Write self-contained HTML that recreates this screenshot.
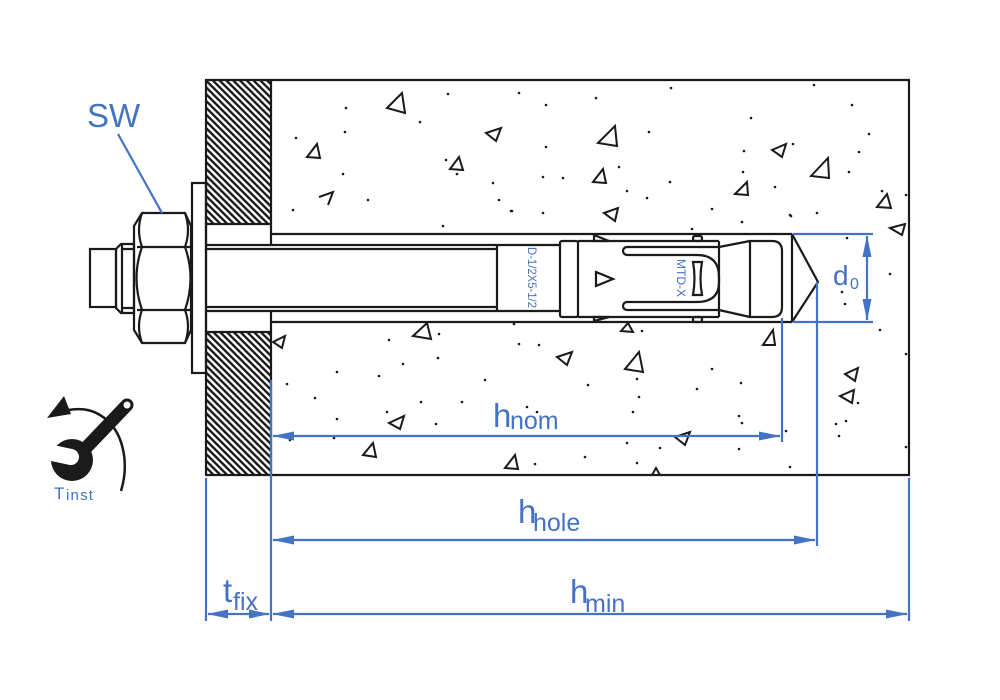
<!DOCTYPE html>
<html>
<head>
<meta charset="utf-8">
<style>
html,body{margin:0;padding:0;background:#fff;}
svg{display:block;}
text{font-family:"Liberation Sans",Arial,sans-serif;}
</style>
</head>
<body>
<svg width="1000" height="700" viewBox="0 0 1000 700" xmlns="http://www.w3.org/2000/svg">
<defs>
<pattern id="hatch" patternUnits="userSpaceOnUse" width="4.8" height="4.8" patternTransform="rotate(45)">
<line x1="0" y1="2.4" x2="4.8" y2="2.4" stroke="#111" stroke-width="2.3"/>
</pattern>
</defs>
<rect width="1000" height="700" fill="#fff"/>

<!-- fixture hatch -->
<rect x="206" y="80" width="65" height="144" fill="url(#hatch)"/>
<rect x="206" y="332" width="65" height="143" fill="url(#hatch)"/>

<g stroke="#1a1a1a" stroke-width="2.2" fill="none">
<!-- concrete block + fixture outline -->
<line x1="205" y1="80" x2="910" y2="80"/>
<line x1="205" y1="475" x2="910" y2="475"/>
<line x1="909" y1="80" x2="909" y2="476"/>
<line x1="206" y1="80" x2="206" y2="476"/>
<line x1="271" y1="80" x2="271" y2="245"/>
<line x1="271" y1="311" x2="271" y2="475"/>
<line x1="206" y1="224" x2="271" y2="224"/>
<line x1="206" y1="332" x2="271" y2="332"/>
<!-- drilled hole -->
<line x1="271" y1="234" x2="792" y2="234"/>
<line x1="271" y1="322" x2="792" y2="322"/>
<line x1="792" y1="234" x2="792" y2="322"/>
<polyline points="792,234 818,282 792,322"/>
<!-- washer -->
<rect x="192" y="183" width="14" height="190"/>
<!-- rod -->
<line x1="206" y1="245" x2="560" y2="245"/>
<line x1="206" y1="249" x2="497" y2="249"/>
<line x1="206" y1="307" x2="497" y2="307"/>
<line x1="206" y1="311" x2="560" y2="311"/>
<line x1="497" y1="245" x2="497" y2="311"/>
<!-- clip / sleeve -->
<rect x="560" y="241" width="18" height="76" rx="2"/>
<line x1="578" y1="241" x2="719" y2="241"/>
<line x1="578" y1="317" x2="719" y2="317"/>
<line x1="719" y1="241" x2="719" y2="317"/>
<polygon points="594,235 609,241 594,241"/>
<polygon points="594,321 609,317 594,317"/>
<rect x="693" y="236" width="9" height="5" rx="2"/>
<rect x="693" y="317" width="9" height="5" rx="2"/>
<path d="M719 247 H627 A4 4 0 0 0 627 255 H697 Q719 255 719 277 V282 Q719 302 697 302 H627 A4 4 0 0 0 627 310 H719"/>
<path d="M693 262 H702 Q699 278 702 295 H693 Q696 278 693 262 Z"/>
<polygon points="596,272 613,279 596,286"/>
<!-- cone -->
<polyline points="719,247 750,241"/>
<polyline points="719,310 750,317"/>
<path d="M750 241 H772 Q782 241 782 251 V307 Q782 317 772 317 H750 Z"/>
<!-- nut -->
<path d="M142 213 H185 L191 226 V330 L185 343 H142 L134 330 V226 Z"/>
<line x1="137" y1="247" x2="190" y2="247"/>
<line x1="137" y1="310" x2="190" y2="310"/>
<path d="M142 213 Q136 230 142 247 M185 213 Q191 230 185 247 M142 247 Q131 278 142 310 M185 247 Q196 278 185 310 M142 310 Q136 326 142 343 M185 310 Q191 326 185 343"/>
<polygon points="116,249 121,244 134,244 134,313 121,313 116,308"/>
<path d="M122 249 H134 M122 308 H134 M122 244 V313"/>
<rect x="90" y="249" width="26" height="58"/>
</g>

<!-- concrete aggregate triangles -->
<g stroke="#1a1a1a" stroke-width="2" fill="none" stroke-linejoin="miter">
<polygon points="387,108 402,93 405,113"/>
<polygon points="307,157 317,144 320,158"/>
<polyline points="319,197 333,192 328,205"/>
<polygon points="450,169 459,157 463,170"/>
<polygon points="486,133 501,128 496,141"/>
<polygon points="598,143 615,126 617,146"/>
<polygon points="593,182 603,169 606,183"/>
<polygon points="604,213 618,208 615,221"/>
<polygon points="772,150 786,144 782,157"/>
<polygon points="811,176 828,158 829,178"/>
<polygon points="735,194 747,182 748,195"/>
<polygon points="877,207 887,194 891,208"/>
<polygon points="890,228 905,224 902,235"/>
<polygon points="413,336 427,323 431,339"/>
<polygon points="273,342 285,336 282,348"/>
<polygon points="557,357 572,352 567,365"/>
<polygon points="625,369 639,352 643,372"/>
<polygon points="389,423 404,416 400,429"/>
<polygon points="363,455 373,443 376,457"/>
<polygon points="505,468 515,455 518,469"/>
<polygon points="675,437 690,432 685,445"/>
<polygon points="621,331 628,323 633,332"/>
<polygon points="652,475 656,468 660,475"/>
<polygon points="763,345 773,330 775,345"/>
<polygon points="845,374 858,368 855,381"/>
<polygon points="840,396 854,390 852,403"/>
</g>

<!-- dots -->
<g fill="#1a1a1a">
<circle cx="346" cy="108" r="1.3"/><circle cx="345" cy="132" r="1.3"/><circle cx="296" cy="138" r="1.3"/>
<circle cx="343" cy="174" r="1.3"/><circle cx="368" cy="200" r="1.3"/><circle cx="293" cy="210" r="1.3"/>
<circle cx="448" cy="94" r="1.3"/><circle cx="420" cy="122" r="1.3"/><circle cx="446" cy="160" r="1.3"/>
<circle cx="457" cy="174" r="1.3"/><circle cx="493" cy="183" r="1.3"/><circle cx="499" cy="200" r="1.3"/>
<circle cx="511" cy="211" r="1.3"/><circle cx="443" cy="226" r="1.3"/><circle cx="519" cy="93" r="1.3"/>
<circle cx="546" cy="105" r="1.3"/><circle cx="596" cy="98" r="1.3"/><circle cx="671" cy="88" r="1.3"/>
<circle cx="814" cy="85" r="1.3"/><circle cx="852" cy="105" r="1.3"/><circle cx="751" cy="118" r="1.3"/>
<circle cx="649" cy="132" r="1.3"/><circle cx="546" cy="147" r="1.3"/><circle cx="869" cy="134" r="1.3"/>
<circle cx="859" cy="152" r="1.3"/><circle cx="744" cy="151" r="1.3"/><circle cx="793" cy="144" r="1.3"/>
<circle cx="849" cy="172" r="1.3"/><circle cx="743" cy="172" r="1.3"/><circle cx="543" cy="177" r="1.3"/>
<circle cx="563" cy="178" r="1.3"/><circle cx="619" cy="167" r="1.3"/><circle cx="670" cy="182" r="1.3"/>
<circle cx="775" cy="187" r="1.3"/><circle cx="627" cy="191" r="1.3"/><circle cx="647" cy="198" r="1.3"/>
<circle cx="882" cy="191" r="1.3"/><circle cx="512" cy="211" r="1.3"/><circle cx="543" cy="213" r="1.3"/>
<circle cx="712" cy="209" r="1.3"/><circle cx="790" cy="215" r="1.3"/><circle cx="817" cy="213" r="1.3"/>
<circle cx="742" cy="222" r="1.3"/><circle cx="692" cy="229" r="1.3"/><circle cx="906" cy="195" r="1.3"/>
<circle cx="439" cy="334" r="1.3"/><circle cx="514" cy="324" r="1.3"/><circle cx="389" cy="340" r="1.3"/>
<circle cx="519" cy="344" r="1.3"/><circle cx="539" cy="345" r="1.3"/><circle cx="403" cy="364" r="1.3"/>
<circle cx="438" cy="358" r="1.3"/><circle cx="337" cy="372" r="1.3"/><circle cx="379" cy="376" r="1.3"/>
<circle cx="287" cy="384" r="1.3"/><circle cx="485" cy="380" r="1.3"/><circle cx="588" cy="385" r="1.3"/>
<circle cx="637" cy="379" r="1.3"/><circle cx="712" cy="369" r="1.3"/><circle cx="697" cy="389" r="1.3"/>
<circle cx="741" cy="383" r="1.3"/><circle cx="315" cy="398" r="1.3"/><circle cx="421" cy="402" r="1.3"/>
<circle cx="462" cy="402" r="1.3"/><circle cx="527" cy="407" r="1.3"/><circle cx="537" cy="412" r="1.3"/>
<circle cx="639" cy="397" r="1.3"/><circle cx="633" cy="412" r="1.3"/><circle cx="739" cy="416" r="1.3"/>
<circle cx="742" cy="423" r="1.3"/><circle cx="337" cy="419" r="1.3"/><circle cx="387" cy="412" r="1.3"/>
<circle cx="436" cy="424" r="1.3"/><circle cx="334" cy="438" r="1.3"/><circle cx="627" cy="443" r="1.3"/>
<circle cx="660" cy="448" r="1.3"/><circle cx="739" cy="449" r="1.3"/><circle cx="585" cy="457" r="1.3"/>
<circle cx="535" cy="464" r="1.3"/><circle cx="637" cy="463" r="1.3"/><circle cx="642" cy="331" r="1.3"/>
<circle cx="786" cy="431" r="1.3"/><circle cx="790" cy="467" r="1.3"/><circle cx="836" cy="424" r="1.3"/>
<circle cx="846" cy="421" r="1.3"/><circle cx="839" cy="436" r="1.3"/><circle cx="906" cy="447" r="1.3"/>
<circle cx="858" cy="403" r="1.3"/><circle cx="847" cy="238" r="1.3"/><circle cx="890" cy="274" r="1.3"/>
<circle cx="842" cy="292" r="1.3"/><circle cx="845" cy="304" r="1.3"/><circle cx="791" cy="216" r="1.3"/>
<circle cx="906" cy="354" r="1.3"/><circle cx="880" cy="330" r="1.3"/><circle cx="290" cy="440" r="1.3"/>
</g>

<!-- anchor markings -->
<text transform="translate(528,247) rotate(90)" font-size="12" fill="#4472c4" textLength="61" lengthAdjust="spacingAndGlyphs">D-1/2X5-1/2</text>
<text transform="translate(677,259) rotate(90)" font-size="12" fill="#4472c4" textLength="38" lengthAdjust="spacingAndGlyphs">MTD-X</text>

<!-- blue dimensioning -->
<g stroke="#4472c4" stroke-width="2.2" fill="none">
<line x1="118" y1="134" x2="162" y2="213"/>
<line x1="206" y1="478" x2="206" y2="621"/>
<line x1="271" y1="380" x2="271" y2="621"/>
<line x1="782" y1="318" x2="782" y2="442"/>
<line x1="817" y1="282" x2="817" y2="546"/>
<line x1="909" y1="478" x2="909" y2="621"/>
<line x1="793" y1="234" x2="873" y2="234"/>
<line x1="793" y1="322" x2="873" y2="322"/>
<line x1="867" y1="236" x2="867" y2="320"/>
<line x1="273" y1="436" x2="780" y2="436"/>
<line x1="273" y1="540" x2="815" y2="540"/>
<line x1="273" y1="614" x2="907" y2="614"/>
<line x1="208" y1="614" x2="269" y2="614"/>
</g>
<g fill="#4472c4">
<polygon points="272,436 294,431.5 294,440.5"/>
<polygon points="781,436 759,431.5 759,440.5"/>
<polygon points="272,540 294,535.5 294,544.5"/>
<polygon points="816,540 794,535.5 794,544.5"/>
<polygon points="272,614 294,609.5 294,618.5"/>
<polygon points="908,614 886,609.5 886,618.5"/>
<polygon points="207,614 228,609.5 228,618.5"/>
<polygon points="270,614 249,609.5 249,618.5"/>
<polygon points="867,235 862.5,257 871.5,257"/>
<polygon points="867,321 862.5,299 871.5,299"/>
</g>

<!-- labels -->
<g fill="#4472c4">
<text x="87" y="127" font-size="33">SW</text>
<text x="493" y="427" font-size="33">h</text><text x="510" y="429" font-size="25">nom</text>
<text x="518" y="523" font-size="33">h</text><text x="533" y="531" font-size="25">hole</text>
<text x="570" y="603" font-size="33">h</text><text x="585" y="612" font-size="25">min</text>
<text x="223" y="602" font-size="33">t</text><text x="233" y="610" font-size="25">fix</text>
<text x="833" y="285" font-size="28">d</text><text x="850" y="289" font-size="16">0</text>
<text x="54" y="499" font-size="17">T</text><text x="66" y="500" font-size="15" letter-spacing="1.2">inst</text>
</g>

<!-- torque wrench icon -->
<g>
<line x1="82" y1="452" x2="127" y2="405" stroke="#1a1a1a" stroke-width="13" stroke-linecap="round"/>
<circle cx="72" cy="460" r="21" fill="#1a1a1a"/>
<g transform="translate(71,457) rotate(192)" fill="#fff">
<rect x="0" y="-8" width="30" height="16"/>
<circle cx="0" cy="0" r="8"/>
</g>
<circle cx="127" cy="405" r="3.5" fill="#fff"/>
<path d="M121 491 C129 465 125 430 100 415 C90 409 80 408 68 410" stroke="#1a1a1a" stroke-width="2.5" fill="none"/>
<polygon points="47,418 64,396 71,414" fill="#1a1a1a"/>
</g>
</svg>
</body>
</html>
